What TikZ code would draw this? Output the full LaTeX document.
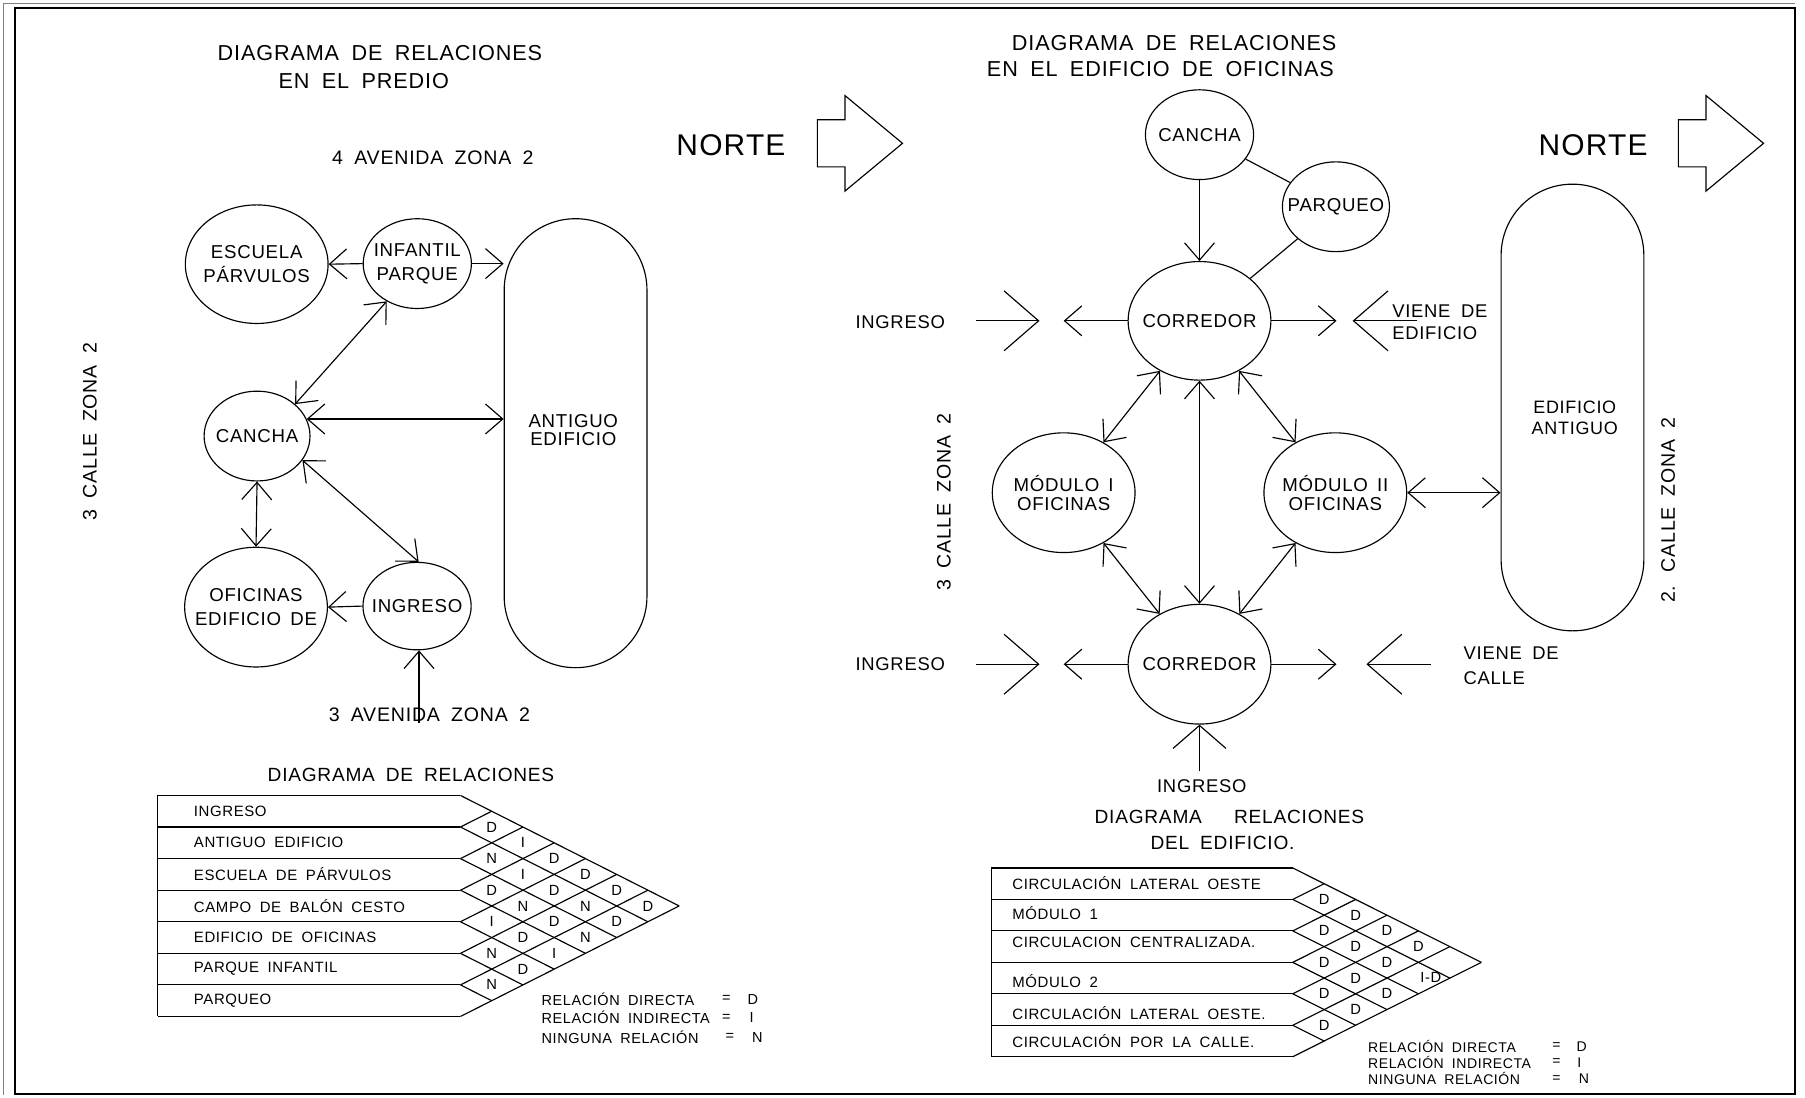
\documentclass[tikz,border=0pt]{standalone}
\usepackage{fontspec}
\setmainfont{Liberation Sans}[LetterSpace=4,WordSpace=1.8]
\usetikzlibrary{arrows.meta,shapes.geometric}
\newcommand\fz[2]{\fontsize{#1pt}{#2pt}\selectfont}
\begin{document}
\begin{tikzpicture}[x=0.5pt,y=-0.5pt,line width=0.5pt,
  every node/.style={inner sep=0pt},
  bub/.style 2 args={draw,ellipse,minimum width=#1pt,minimum height=#2pt},
  labl/.style={align=center,font=\fz{8.1}{10.2},inner sep=0pt},
  labr/.style={align=center,font=\fz{8.1}{8.2},inner sep=0pt},
  stad/.style 2 args={draw,rectangle,rounded corners=30.9pt,minimum width=#1pt,minimum height=#2pt},
  ar/.style={-{Straight Barb[length=7.5pt,width=13pt]}},
  dar/.style={{Straight Barb[length=7.5pt,width=13pt]}-{Straight Barb[length=7.5pt,width=13pt]}},
  bar/.style={-{Straight Barb[length=15pt,width=26pt]}},
  uar/.style={-{Straight Barb[length=10pt,width=23pt]}},
  title/.style={font=\fz{9.4}{11}},
  lbl/.style={font=\fz{8}{10}},
  street/.style={font=\fz{8.5}{10}},
  cellt/.style={font=\fz{6.4}{7}},
  rowl/.style={anchor=west,font=\fz{6.5}{8}},
  legl/.style={font=\fz{6.3}{7}},
  legr/.style={font=\fz{6.1}{7}}]
\useasboundingbox (0,0) rectangle (1568,953);
% frame
\draw[gray,line width=0.6pt] (3,951) -- (3,3) -- (1559,3);
\draw[line width=0.9pt] (13,7) rectangle (1559,950);

% ================= LEFT: predio =================
\node[title] (t1a) at (330,46) {DIAGRAMA DE RELACIONES};
\node[title] (t1b) at (316,70) {EN EL PREDIO};
\node[street] (av4) at (376,137) {4 AVENIDA ZONA 2};
\node[street] (av3) at (373,621) {3 AVENIDA ZONA 2};
\node[street,rotate=90] (cl3) at (78,375) {3 CALLE ZONA 2};
\node[font=\fz{13}{15}] (nor1) at (635,126) {NORTE};
\draw (710,104) -- (734,104) -- (734,83) -- (784,124.5) -- (734,166) -- (734,145) -- (710,145) -- cycle;

\node[bub={62}{51.5},label={[labl]center:ESCUELA\\PÁRVULOS}] (esc) at (223,229.5) {};
\node[bub={47}{39},label={[labl]center:INFANTIL\\PARQUE}] (inf) at (362.5,229) {};
\node[bub={46}{39},label={[labl]center:CANCHA}] (canL) at (223.3,378.8) {};
\node[bub={62}{52},label={[labl]center:OFICINAS\\EDIFICIO\hspace{4pt}DE}] (ofi) at (222.4,527.4) {};
\node[bub={47}{38},label={[labl]center:INGRESO}] (ingL) at (362.3,526.5) {};
\node[stad={62}{195}] (antL) at (500,385) {};
\node[font=\fz{8.1}{7.6},align=center] (antLt) at (498,373.5) {ANTIGUO\\EDIFICIO};

\draw[ar] (inf.west) -- (esc.east);
\draw[ar] (inf.east) -- (inf.east -| antL.west);
\draw[dar] (canL.40) -- (inf.231);
\draw[dar] (canL.19) -- (canL.19 -| antL.west);
\draw[dar] (canL.-28) -- (ingL.88);
\draw[dar] (canL.south) -- (ofi.north);
\draw[ar] (ingL.west) -- (ofi.east);
\coordinate (avb) at (364,628);
\draw[ar] (avb) -- (avb |- ingL.south);

% left matrix
\node[font=\fz{8.3}{10}] (m1t) at (357,673) {DIAGRAMA DE RELACIONES};
\foreach \k in {0,...,7}{
  \draw (137,{691+\k*27.43}) -- (400,{691+\k*27.43});
  \draw (400,{691+\k*27.43}) -- ({400+(7-\k)*27.14},{691+\k*27.43+(7-\k)*13.715});
  \draw (400,{691+\k*27.43}) -- ({400+\k*27.14},{691+\k*27.43-\k*13.715});
}
\draw (137,691) -- (137,883);
\foreach \k/\t in {0/INGRESO,1/ANTIGUO EDIFICIO,2/ESCUELA DE PÁRVULOS,3/CAMPO DE BALÓN CESTO,4/EDIFICIO DE OFICINAS,5/PARQUE INFANTIL,6/PARQUEO}{
  \node[rowl] (LR\k) at (168,{691+(\k+0.5)*27.43}) {\t};
}
\foreach \i/\j/\v in {0/1/D,0/2/I,1/2/N,0/3/D,1/3/I,0/4/D,2/3/D,1/4/D,0/5/D,2/4/N,1/5/N,0/6/D,3/4/I,2/5/D,1/6/D,3/5/D,2/6/N,4/5/N,3/6/I,4/6/D,5/6/N}{
  \node[cellt] (LC\i\j) at ({400+(\j-\i)*27.14},{691+(\i+\j+1)*13.715}) {\v};
}
\node[legl,anchor=west] (lg1) at (470,868) {RELACIÓN DIRECTA};
\node[legl,anchor=west] (lg2) at (470,884) {RELACIÓN INDIRECTA};
\node[legl,anchor=west] (lg3) at (470,901) {NINGUNA RELACIÓN};
\node[legl] (lg1e) at (631,868) {=};
\node[legl] (lg2e) at (631,884) {=};
\node[legl] (lg3e) at (634,901) {=};
\node[legl] (lg1v) at (654,868) {D};
\node[legl] (lg2v) at (653,884) {I};
\node[legl] (lg3v) at (658,901) {N};

% ================= RIGHT: edificio =================
\node[title] (t2a) at (1020,37) {DIAGRAMA DE RELACIONES};
\node[title] (t2b) at (1008,60) {EN EL EDIFICIO DE OFICINAS};
\node[font=\fz{13}{15}] (nor2) at (1384,126) {NORTE};
\draw (1458,104) -- (1482,104) -- (1482,83) -- (1532,124.5) -- (1482,166) -- (1482,145) -- (1458,145) -- cycle;
\node[street,rotate=90] (cl3r) at (820,436) {3 CALLE ZONA 2};
\node[street,rotate=90] (cl2r) at (1449,443) {2. CALLE ZONA 2};

\node[bub={47}{39},label={[labr]center:CANCHA}] (canR) at (1042,117) {};
\node[bub={46.5}{39},label={[labr]center:PARQUEO}] (parq) at (1160.5,179.6) {};
\node[bub={62}{51.5},label={[labr]center:CORREDOR}] (cor1) at (1042,278.7) {};
\node[bub={62}{52},label={[labr]center:MÓDULO\hspace{4pt}I\\OFICINAS}] (mod1) at (924,428) {};
\node[bub={62}{52},label={[labr]center:MÓDULO\hspace{4pt}II\\OFICINAS}] (mod2) at (1160,428) {};
\node[bub={62}{52},label={[labr]center:CORREDOR}] (cor2) at (1042,577) {};
\node[stad={62}{194}] (antR) at (1366,354) {};
\node[font=\fz{7.8}{9},align=center] (antRt) at (1368,363) {EDIFICIO\\ANTIGUO};

\draw[ar] (canR) -- (cor1);
\draw (canR) -- (parq);
\draw (parq) -- (cor1);
\draw[dar] (cor1) -- (mod1);
\draw[dar] (cor1) -- (mod2);
\draw[dar] (cor1) -- (cor2);
\draw[dar] (mod1) -- (cor2);
\draw[dar] (mod2) -- (cor2);
\draw[dar] (mod2.east) -- (mod2.east -| antR.west);

% side arrows, top corridor
\node[lbl] (ing1) at (782,280) {INGRESO};
\coordinate (in1a) at (848,278.7);
\coordinate (in1b) at (903,278.7);
\draw[bar] (in1a) -- (in1b);
\coordinate (c1w) at (924,278.7);
\draw[ar] (cor1.west) -- (c1w);
\coordinate (c1e) at (1161,278.7);
\draw[ar] (cor1.east) -- (c1e);
\coordinate (vd1a) at (1231,278.7);
\coordinate (vd1b) at (1175,278.7);
\draw[bar] (vd1a) -- (vd1b);
\node[lbl,anchor=west] (vd1t) at (1209,270.5) {VIENE DE};
\node[lbl,anchor=west] (vd1u) at (1209,289) {EDIFICIO};

% side arrows, bottom corridor
\node[lbl] (ing2) at (782,577) {INGRESO};
\coordinate (in2a) at (848,577);
\coordinate (in2b) at (903,577);
\draw[bar] (in2a) -- (in2b);
\coordinate (c2w) at (924,577);
\draw[ar] (cor2.west) -- (c2w);
\coordinate (c2e) at (1161,577);
\draw[ar] (cor2.east) -- (c2e);
\coordinate (vd2a) at (1243,577);
\coordinate (vd2b) at (1187,577);
\draw[bar] (vd2a) -- (vd2b);
\node[lbl,anchor=west] (vd2t) at (1271,567.5) {VIENE DE};
\node[lbl,anchor=west] (vd2u) at (1271,589) {CALLE};

\coordinate (in3) at (1042,670);
\draw[uar] (in3) -- (cor2.south);
\node[lbl] (ing3) at (1044,683) {INGRESO};

% right matrix
\node[font=\fz{8.3}{10}] (m2t) at (1068,710) {DIAGRAMA\hspace{14pt}RELACIONES};
\node[font=\fz{8.3}{10}] (m2u) at (1062,732) {DEL EDIFICIO.};
\foreach \k in {0,...,6}{
  \draw (861,{754+\k*27.33}) -- (1123,{754+\k*27.33});
  \draw (1123,{754+\k*27.33}) -- ({1123+(6-\k)*27.3},{754+\k*27.33+(6-\k)*13.665});
  \draw (1123,{754+\k*27.33}) -- ({1123+\k*27.3},{754+\k*27.33-\k*13.665});
}
\draw (861,754) -- (861,918);
\foreach \k/\y/\t in {0/767/CIRCULACIÓN LATERAL OESTE,1/793/MÓDULO 1,2/819/CIRCULACION CENTRALIZADA.,3/852/MÓDULO 2,4/880/CIRCULACIÓN LATERAL OESTE.,5/904/CIRCULACIÓN POR LA CALLE.}{
  \node[rowl] (RR\k) at (879,\y) {\t};
}
\foreach \i/\j/\v in {0/1/D,0/2/D,1/2/D,0/3/D,1/3/D,0/4/D,2/3/D,1/4/D,2/4/D,3/4/D,2/5/D,3/5/D,4/5/D}{
  \node[cellt] (RC\i\j) at ({1123+(\j-\i)*27.3},{754+(\i+\j+1)*13.665}) {\v};
}
\node[cellt] (RC15) at (1243,849) {I-D};
\node[legr,anchor=west] (rg1) at (1188,909) {RELACIÓN DIRECTA};
\node[legr,anchor=west] (rg2) at (1188,923) {RELACIÓN INDIRECTA};
\node[legr,anchor=west] (rg3) at (1188,937) {NINGUNA RELACIÓN};
\node[legr] (rg1e) at (1352,909) {=};
\node[legr] (rg2e) at (1352,923) {=};
\node[legr] (rg3e) at (1352,937) {=};
\node[legr] (rg1v) at (1374,909) {D};
\node[legr] (rg2v) at (1372,923) {I};
\node[legr] (rg3v) at (1376,937) {N};
\end{tikzpicture}
\end{document}
